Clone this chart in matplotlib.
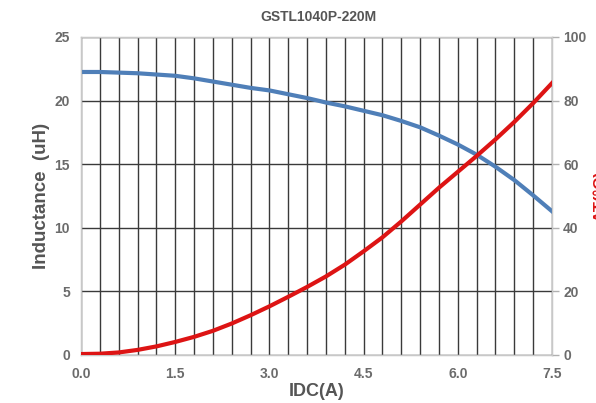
import numpy as np
import matplotlib
matplotlib.use("Agg")
import matplotlib.pyplot as plt

# Current (A) sample points
idc = [0.0, 0.3, 0.6, 0.9, 1.2, 1.5, 1.8, 2.1, 2.4, 2.7, 3.0, 3.3, 3.6,
       3.9, 4.2, 4.5, 4.8, 5.1, 5.4, 5.7, 6.0, 6.3, 6.6, 6.9, 7.2, 7.5]
# Inductance (uH), left axis
inductance = [22.25, 22.25, 22.2, 22.15, 22.05, 21.95, 21.75, 21.5, 21.25, 21.0,
              20.8, 20.5, 20.2, 19.85, 19.55, 19.2, 18.85, 18.4, 17.9, 17.25,
              16.55, 15.75, 14.8, 13.75, 12.55, 11.3]
# Temperature rise, right axis
temp_rise = [0.3, 0.4, 0.8, 1.6, 2.7, 4.1, 5.7, 7.6, 9.9, 12.5, 15.3, 18.3,
             21.4, 24.7, 28.4, 32.6, 37.0, 42.0, 47.3, 52.6, 57.6, 62.6,
             67.8, 73.3, 79.2, 85.5]

x_labels = ["0.0", "1.5", "3.0", "4.5", "6.0", "7.5"]
left_ticks = [0, 5, 10, 15, 20, 25]
right_ticks = [0, 20, 40, 60, 80, 100]

plt.rcParams['font.family'] = ['Liberation Sans', 'DejaVu Sans']

fig = plt.figure(figsize=(5.96, 4.03), dpi=100)
ax = fig.add_axes([81/596, 48/403, 471/596, 318/403])

grid_col = '#3a3a3a'
tick_col = '#6b6b6b'

# vertical grid every 0.3 A, horizontal every 5 uH
xg = np.arange(0, 7.51, 0.3)
ax.set_xticks(xg)
ax.set_xticklabels([x_labels[i // 5] if i % 5 == 0 else '' for i in range(len(xg))])
ax.set_xlim(0, 7.5)
ax.set_ylim(0, 25)
ax.set_yticks(left_ticks)
ax.grid(True, color=grid_col, linewidth=1.0)
ax.set_axisbelow(True)
ax.tick_params(axis='both', length=0, colors=tick_col, labelsize=10)
ax.tick_params(axis='x', pad=9)
ax.tick_params(axis='y', pad=8)
for lab in ax.get_xticklabels() + ax.get_yticklabels():
    lab.set_fontweight('bold')
for s in ax.spines.values():
    s.set_color('#c8c8c8')
    s.set_linewidth(1.0)

ax.plot(idc, inductance, color='#4f7fb8', linewidth=3.0, zorder=4)

ax2 = ax.twinx()
ax2.set_ylim(0, 100)
ax2.set_yticks(right_ticks)
ax2.tick_params(axis='y', length=5, width=1, color='#b0b0b0', labelcolor=tick_col,
                labelsize=10, pad=3)
for lab in ax2.get_yticklabels():
    lab.set_fontweight('bold')
for s in ax2.spines.values():
    s.set_color('#c8c8c8')
ax2.plot(idc, temp_rise, color='#dd1414', linewidth=3.0, zorder=4)

ax.set_xlabel('IDC(A)', fontsize=13, fontweight='bold', color='#555555', labelpad=1)
ax.set_ylabel('Inductance  (uH)', fontsize=13.5, fontweight='bold', color='#555555', labelpad=3)
fig.text(318/596, 1 - 17/403, 'GSTL1040P-220M', ha='center', va='center',
         fontsize=10, fontweight='bold', color='#555555')
# right axis label, mostly outside the picture (as in the original)
fig.text(593/596, 1 - 196/403, 'ΔT(°C)', rotation=90, ha='left', va='center',
         fontsize=12, fontweight='bold', color='#dd1414')

fig.savefig('out.png', dpi=100)
